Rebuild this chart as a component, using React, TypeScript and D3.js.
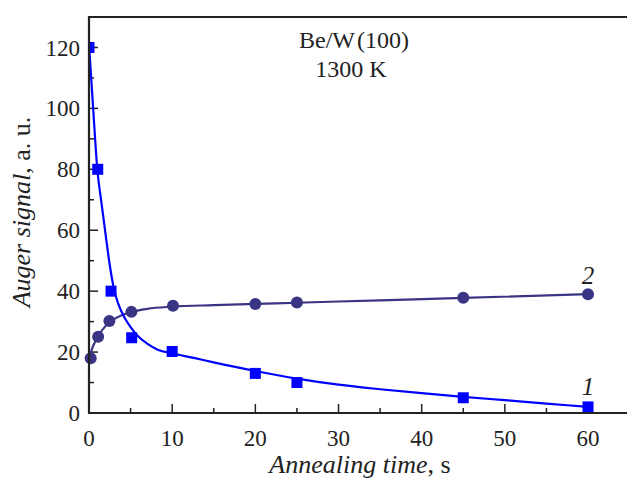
import * as d3 from "d3";

// series 1: squares
const t1 = [0, 1.05, 2.65, 5.13, 10, 20, 25, 45, 60];
const s1 = [120, 80, 40, 24.7, 20.2, 13, 10, 5, 2];
// series 2: circles
const t2 = [0.2, 1.1, 2.45, 5.1, 10.1, 20, 25, 45, 60];
const s2 = [18, 25, 30.2, 33.2, 35.2, 35.8, 36.3, 37.8, 39];

// fitted curves
const fit1T = [0, 0.5, 1, 1.5, 2, 2.5, 3, 3.5, 4.33, 5, 5.93, 7, 8.33, 10, 12.75, 15, 20, 25, 30, 35, 40, 45, 50, 55, 60];
const fit1V = [121, 100, 80, 69, 58.5, 48.5, 40.7, 36, 31, 28.2, 25.1, 22.8, 20.7, 19.6, 18, 16.6, 13.8, 11.3, 9.3, 7.8, 6.5, 5.3, 4.2, 3.1, 2];
const fit2T = [0, 0.5, 1, 2, 3, 4, 5, 7, 10, 15, 20, 25, 35, 45, 60];
const fit2V = [18, 22, 24.8, 28.6, 30.8, 32.2, 33.1, 34.2, 34.9, 35.4, 35.8, 36.2, 37, 37.8, 39];

const xTicks = [0, 10, 20, 30, 40, 50, 60];
const xMinor = [5, 15, 25, 35, 45, 55];
const yTicks = [0, 20, 40, 60, 80, 100, 120];
const yMinor = [10, 30, 50, 70, 90, 110];

const W = 627;
const H = 479;
const left = 89;
const top = 17;
const bottom = 413;

const FONT = "Liberation Serif, DejaVu Serif, Times New Roman, serif";
const BLUE = "#0000ff";
const NAVY = "#3a3484";
const INK = "#222";

export default function App() {
  const x = d3.scaleLinear().domain([0, 65]).range([left, left + 65 * 8.317]);
  const y = d3.scaleLinear().domain([0, 130]).range([bottom, top]);

  const line = d3
    .line<[number, number]>()
    .x((d) => x(d[0]))
    .y((d) => y(d[1]))
    .curve(d3.curveMonotoneX);

  const c1 = line(fit1T.map((t, i) => [t, fit1V[i]]) as [number, number][]) || "";
  const c2 = line(fit2T.map((t, i) => [t, fit2V[i]]) as [number, number][]) || "";

  const xr = x.range()[1];
  const sq = 11;

  return (
    <svg
      width={W}
      height={H}
      style={{ position: "absolute", left: 0, top: 0, background: "#fff" }}
    >
      <defs>
        <clipPath id="plot">
          <rect x={left} y={top} width={xr - left} height={bottom - top} />
        </clipPath>
      </defs>

      <g fontFamily={FONT} fill={INK}>
        {/* annotation */}
        <text x={354} y={48} fontSize={24} textAnchor="middle">
          Be/W<tspan dx={2}>(100)</tspan>
        </text>
        <text x={351} y={77} fontSize={24} textAnchor="middle">
          1300 K
        </text>
      </g>

      {/* ticks */}
      <g stroke={INK} strokeWidth={1.5}>
        {yTicks.map((v) => (
          <line key={"ym" + v} x1={left} x2={left + 9} y1={y(v)} y2={y(v)} />
        ))}
        {yMinor.map((v) => (
          <line key={"yn" + v} x1={left} x2={left + 5} y1={y(v)} y2={y(v)} />
        ))}
        {xTicks.map((v) => (
          <line key={"xm" + v} x1={x(v)} x2={x(v)} y1={bottom} y2={bottom - 9} />
        ))}
        {xMinor.map((v) => (
          <line key={"xn" + v} x1={x(v)} x2={x(v)} y1={bottom} y2={bottom - 5} />
        ))}
      </g>

      {/* curves */}
      <g clipPath="url(#plot)">
        <path d={c2} fill="none" stroke={NAVY} strokeWidth={2.2} />
        <path d={c1} fill="none" stroke={BLUE} strokeWidth={2.2} />
        {t1.map((t, i) => (
          <rect key={"s" + i} x={x(t) - sq / 2} y={y(s1[i]) - sq / 2} width={sq} height={sq} fill={BLUE} />
        ))}
      </g>
      {t2.map((t, i) => (
        <circle key={"c" + i} cx={x(t)} cy={y(s2[i])} r={6} fill={NAVY} />
      ))}

      {/* frame */}
      <path
        d={`M${xr},${top}H${left}V${bottom}H${xr}`}
        fill="none"
        stroke={INK}
        strokeWidth={2.2}
      />

      <g fontFamily={FONT} fill={INK}>
        {/* tick labels */}
        <g fontSize={23}>
          {yTicks.map((v) => (
            <text key={"yl" + v} x={80} y={y(v)} dy="0.35em" textAnchor="end">
              {v}
            </text>
          ))}
          {xTicks.map((v) => (
            <text key={"xl" + v} x={x(v)} y={446} textAnchor="middle">
              {v}
            </text>
          ))}
        </g>

        {/* curve labels */}
        <text x={588} y={284} fontSize={25} fontStyle="italic" textAnchor="middle">
          2
        </text>
        <text x={588} y={395} fontSize={25} fontStyle="italic" textAnchor="middle">
          1
        </text>

        {/* axis titles */}
        <text x={360} y={473} fontSize={26} textAnchor="middle">
          <tspan fontStyle="italic">Annealing time</tspan>, s
        </text>
        <text transform="translate(30,212) rotate(-90)" fontSize={26} textAnchor="middle">
          <tspan fontStyle="italic">Auger signal</tspan>, a. u.
        </text>
      </g>
    </svg>
  );
}
